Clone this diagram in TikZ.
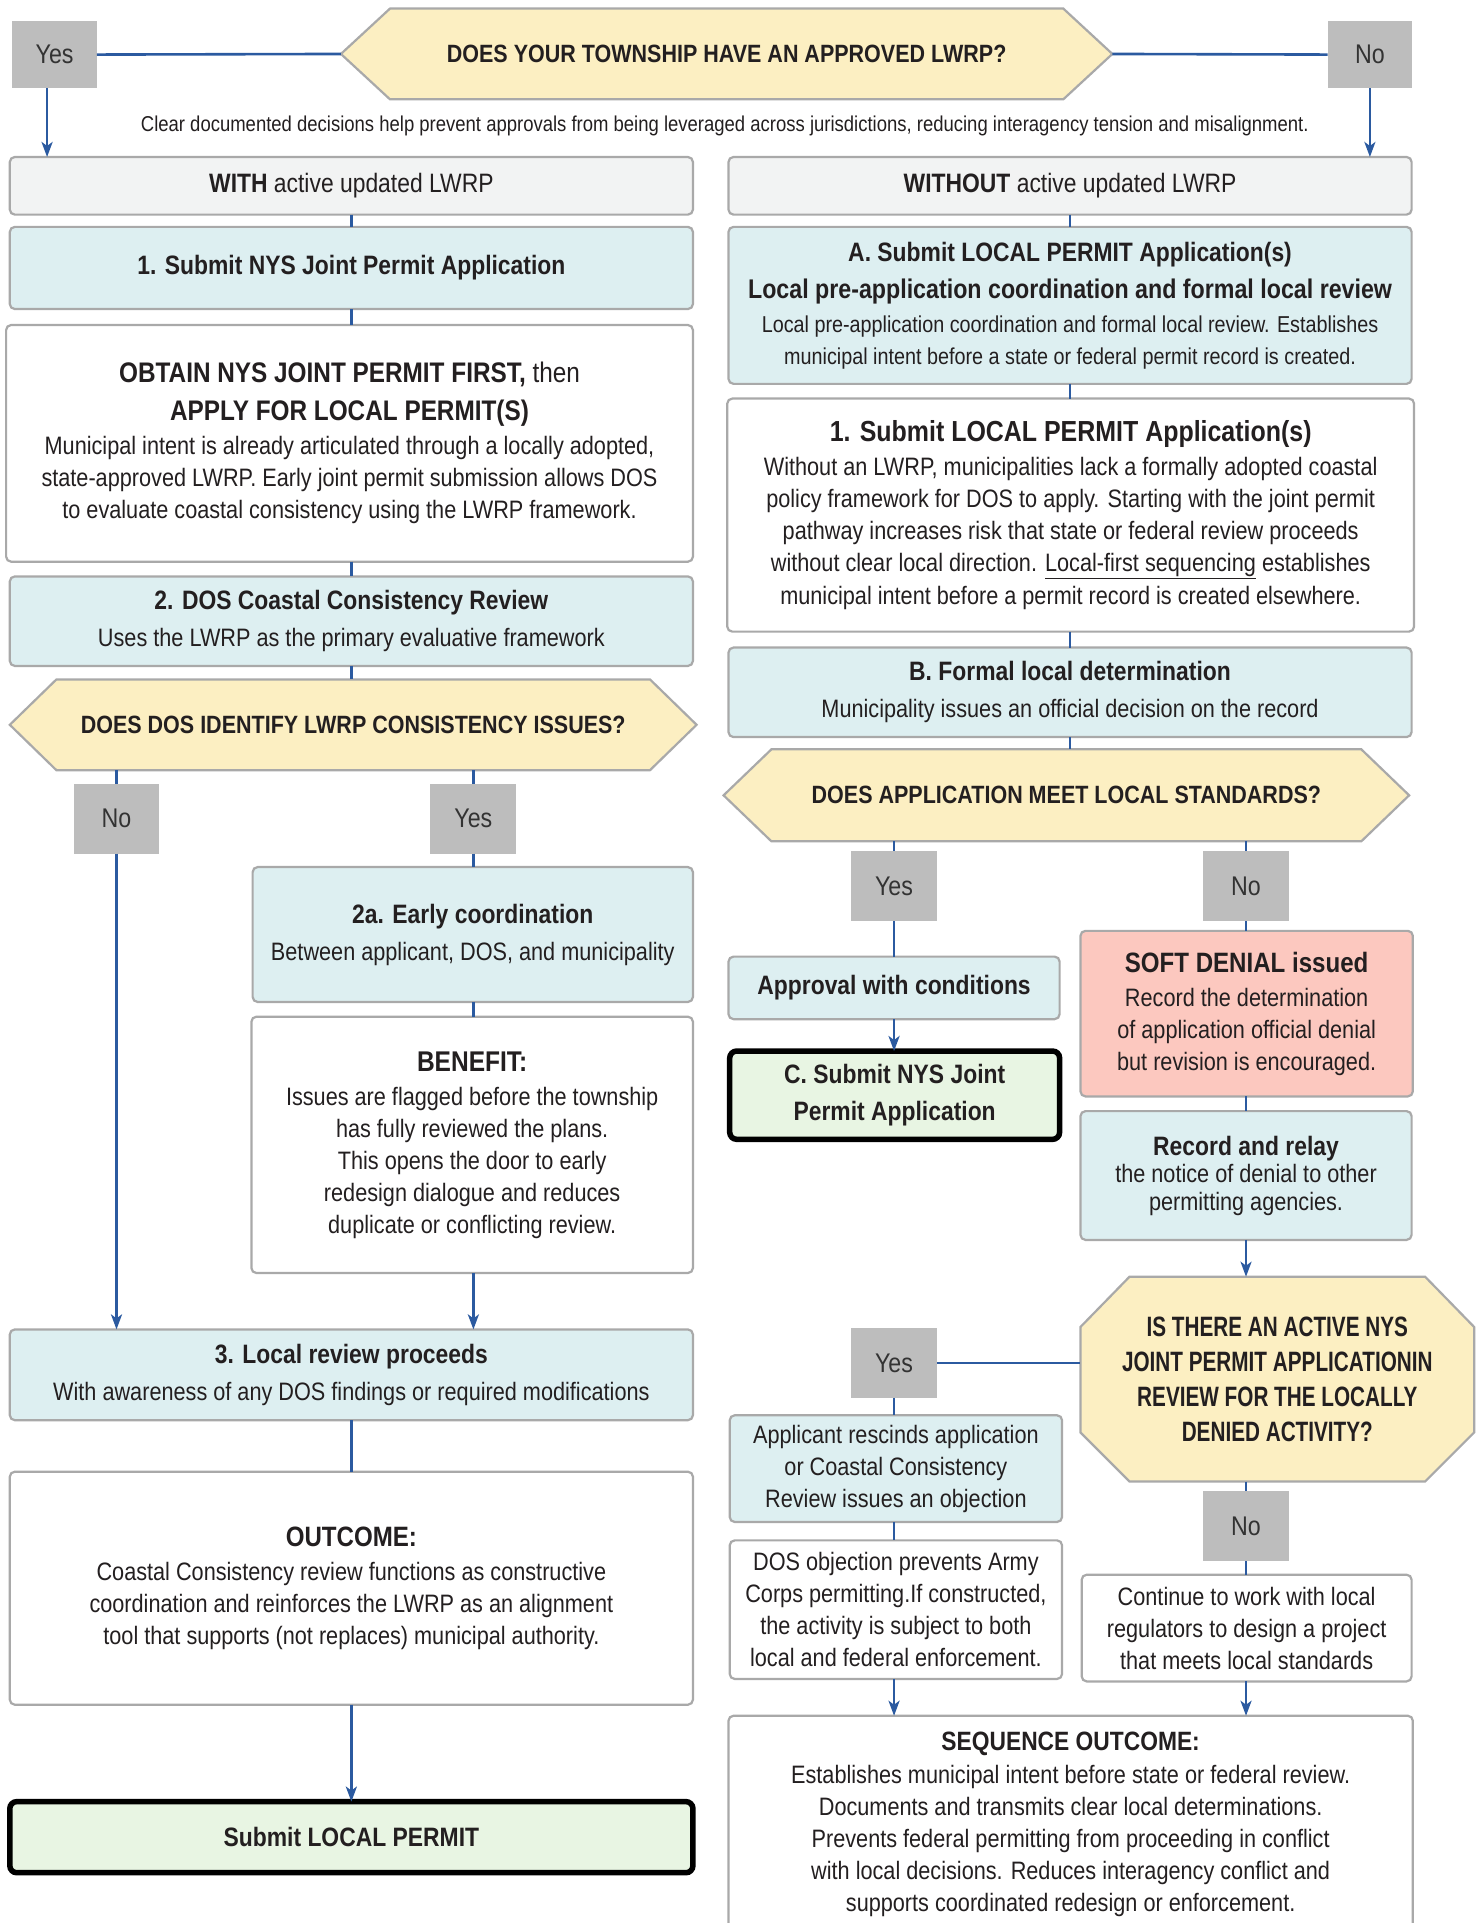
\documentclass[tikz,border=0pt]{standalone}
\usepackage{fontspec}
\setmainfont{Liberation Sans}[FakeStretch=0.86]
\newfontfamily\octfont{Liberation Sans}[FakeStretch=0.74]
\usetikzlibrary{arrows.meta}
\definecolor{lineblue}{HTML}{2B5AA0}
\definecolor{boxgray}{HTML}{A9A9A9}
\definecolor{lblgray}{HTML}{BDBDBD}
\definecolor{hdrgray}{HTML}{F2F3F3}
\definecolor{lblue}{HTML}{DDEFF1}
\definecolor{yel}{HTML}{FCEFC2}
\definecolor{pinkf}{HTML}{FCC8BF}
\definecolor{lgreen}{HTML}{E8F5E3}
\definecolor{txt}{HTML}{231F20}
\definecolor{txtb}{HTML}{333333}
\newcommand\bodyf{\fontsize{25.2}{32}\selectfont}
\newcommand\ttl[1]{{\fontsize{26.6}{32}\selectfont\bfseries #1}}
\newcommand\bx[7]{\node[#6, minimum width={(#4-#2)*1.2262pt}, minimum height={(#5-#3)*1.2262pt}] (#1) at ({(#2+#4)/2},{(#3+#5)/2}) {#7};}
\newcommand\hexa[7]{%
 \draw[hexst] (#2,{(#4+#5)/2}) -- ({#2+#6},#4) -- ({#3-#6},#4) -- (#3,{(#4+#5)/2}) -- ({#3-#6},#5) -- ({#2+#6},#5) -- cycle;
 \node[qtext, minimum width={(#3-#2)*1.2262pt}, minimum height={(#5-#4)*1.2262pt}] (#1) at ({(#2+#3)/2},{(#4+#5)/2}) {#7};}
\newcommand\lab[3]{\node[lbl] (#1) at (#2) {#3};}
\tikzset{
 base/.style={rounded corners=5pt, line width=2.2pt, draw=boxgray, align=center, inner sep=0pt, outer sep=0pt, text=txt, font=\bodyf},
 graybox/.style={base, fill=hdrgray},
 bluebox/.style={base, fill=lblue},
 whitebox/.style={base, fill=white},
 pinkbox/.style={base, fill=pinkf},
 greenbox/.style={base, fill=lgreen, draw=black, line width=5.5pt, rounded corners=7pt},
 hexst/.style={fill=yel, draw=boxgray, line width=2.2pt, line join=miter},
 qtext/.style={inner sep=0pt, outer sep=0pt, align=center, text=txt, font=\fontsize{25}{32}\selectfont\bfseries},
 lbl/.style={fill=lblgray, inner sep=0pt, outer sep=0pt, minimum width={70*1.2262pt}, minimum height={57*1.2262pt}, font=\fontsize{27}{30}\selectfont, text=txtb},
 conn/.style={draw=lineblue, line width=2.6pt},
 arr/.style={conn, -{Stealth[length=15pt, width=11pt, inset=4pt]}},
}
\begin{document}
\begin{tikzpicture}[x=1.2262pt,y=-1.2262pt]
\useasboundingbox[fill=white] (0,0) rectangle (1207,1568);

% ---- top ----
\hexa{q1}{278}{907}{7}{81}{40}{DOES YOUR TOWNSHIP HAVE AN APPROVED LWRP?}
\node[lbl, minimum width={69*1.2262pt}, minimum height={55*1.2262pt}] (yT) at (44.5,44.5) {Yes};
\node[lbl, minimum width={69*1.2262pt}, minimum height={55*1.2262pt}] (nT) at (1117,44.5) {No};
\node[text=txt, font=\fontsize{21.5}{24}\selectfont, inner sep=0pt] (cap) at (591,103) {Clear documented decisions help prevent approvals from being leveraged across jurisdictions, reducing interagency tension and misalignment.};

% ---- left column ----
\bx{withb}{8}{128}{565}{175}{graybox}{{\fontsize{26.6}{32}\selectfont\textbf{WITH} active updated LWRP}}
\bx{b1}{8}{185}{565}{252}{bluebox}{\ttl{1. Submit NYS Joint Permit Application}}
\bx{obt}{5}{265}{565}{458}{whitebox}{{\fontsize{28.3}{32}\selectfont\bfseries OBTAIN NYS JOINT PERMIT FIRST,\mdseries{} then}\\[6pt]{\fontsize{28.3}{32}\selectfont\bfseries APPLY FOR LOCAL PERMIT(S)}\\[2pt] Municipal intent is already articulated through a locally adopted,\\ state-approved LWRP. Early joint permit submission allows DOS\\ to evaluate coastal consistency using the LWRP framework.}
\bx{b2}{8}{470}{565}{543}{bluebox}{\ttl{2. DOS Coastal Consistency Review}\\[5pt] Uses the LWRP as the primary evaluative framework}
\hexa{q2}{8}{568}{554}{628}{38}{DOES DOS IDENTIFY LWRP CONSISTENCY ISSUES?}
\lab{nL}{95,667.5}{No}
\lab{yL}{386,667.5}{Yes}
\bx{b2a}{206}{707}{565}{817}{bluebox}{\ttl{2a. Early coordination}\\[5pt] Between applicant, DOS, and municipality}
\bx{ben}{205}{829}{565}{1038}{whitebox}{{\fontsize{28.5}{32}\selectfont\bfseries BENEFIT:}\\[2pt] Issues are flagged before the township\\ has fully reviewed the plans.\\ This opens the door to early\\ redesign dialogue and reduces\\ duplicate or conflicting review.}
\bx{b3}{8}{1084}{565}{1158}{bluebox}{\ttl{3. Local review proceeds}\\[5pt] With awareness of any DOS findings or required modifications}
\bx{out}{8}{1200}{565}{1390}{whitebox}{{\fontsize{28}{32}\selectfont\bfseries OUTCOME:}\\[2pt] Coastal Consistency review functions as constructive\\ coordination and reinforces the LWRP as an alignment\\ tool that supports (not replaces) municipal authority.}
\bx{sub}{8}{1469}{565}{1527}{greenbox}{\ttl{Submit LOCAL PERMIT}}

% ---- right column ----
\bx{withoutb}{594}{128}{1151}{175}{graybox}{{\fontsize{26.6}{32}\selectfont\textbf{WITHOUT} active updated LWRP}}
\bx{bA}{594}{185}{1151}{313}{bluebox}{\ttl{A. Submit LOCAL PERMIT Application(s)}\\[5pt] {\fontsize{27}{32}\selectfont\bfseries Local pre-application coordination and formal local review}\\[2pt] {\fontsize{23}{32}\selectfont Local pre-application coordination and formal local review. Establishes}\\ {\fontsize{23}{32}\selectfont municipal intent before a state or federal permit record is created.}}
\bx{r1}{593}{325}{1153}{515}{whitebox}{{\fontsize{29}{32}\selectfont\bfseries 1. Submit LOCAL PERMIT Application(s)}\\[2pt] Without an LWRP, municipalities lack a formally adopted coastal\\ policy framework for DOS to apply. Starting with the joint permit\\ pathway increases risk that state or federal review proceeds\\ without clear local direction. \underline{Local-first sequencing} establishes\\ municipal intent before a permit record is created elsewhere.}
\bx{bB}{594}{528}{1151}{601}{bluebox}{\ttl{B. Formal local determination}\\[5pt] Municipality issues an official decision on the record}
\hexa{q3}{590}{1149}{611}{686}{39}{DOES APPLICATION MEET LOCAL STANDARDS?}
\lab{yR}{729,722.5}{Yes}
\lab{nR}{1016,722.5}{No}
\bx{appr}{594}{780}{864}{831}{bluebox}{\ttl{Approval with conditions}}
\bx{cbox}{595}{857}{864}{929}{greenbox}{\ttl{C. Submit NYS Joint}\\[5pt] \ttl{Permit Application}}
\bx{soft}{881}{759}{1152}{894}{pinkbox}{{\fontsize{28}{32}\selectfont\bfseries SOFT DENIAL issued}\\[2pt] Record the determination\\ of application official denial\\ but revision is encouraged.}
\bx{rec}{881}{906}{1151}{1011}{bluebox, font=\fontsize{25.2}{28}\selectfont}{{\fontsize{26.6}{28}\selectfont\bfseries Record and relay}\\[-1pt] the notice of denial to other\\ permitting agencies.}
\draw[hexst] (881,1082) -- (921,1041) -- (1162,1041) -- (1202,1082) -- (1202,1168) -- (1162,1208) -- (921,1208) -- (881,1168) -- cycle;
\node[qtext, font=\fontsize{28}{35}\selectfont\octfont\bfseries, minimum width={321*1.2262pt}, minimum height={167*1.2262pt}] (q4) at (1041.5,1124.5) {IS THERE AN ACTIVE NYS\\ JOINT PERMIT APPLICATIONIN\\ REVIEW FOR THE LOCALLY\\ DENIED ACTIVITY?};
\lab{yO}{729,1111.5}{Yes}
\lab{nO}{1016,1244.5}{No}
\bx{appl}{595}{1154}{866}{1241}{bluebox}{\rule{0pt}{10pt}Applicant rescinds application\\ or Coastal Consistency\\ Review issues an objection}
\bx{dos}{595}{1256}{866}{1369}{whitebox}{DOS objection prevents Army\\ Corps permitting.If constructed,\\ the activity is subject to both\\ local and federal enforcement.}
\bx{cont}{882}{1284}{1151}{1371}{whitebox}{Continue to work with local\\ regulators to design a project\\ that meets local standards}
\bx{seq}{594}{1399}{1152}{1576}{whitebox}{{\fontsize{26.5}{32}\selectfont\bfseries SEQUENCE OUTCOME:}\\[1pt] Establishes municipal intent before state or federal review.\\ Documents and transmits clear local determinations.\\ Prevents federal permitting from proceeding in conflict\\ with local decisions. Reduces interagency conflict and\\ supports coordinated redesign or enforcement.}

% ---- connectors ----
\draw[conn] (yT.east) -- (q1.west);
\draw[conn] (q1.east) -- (nT.west);
\draw[arr] ([xshift=-7.5pt]yT.south) -- ([xshift=-7.5pt]yT.south |- withb.north);
\draw[arr] (nT.south) -- (nT.south |- withoutb.north);
\draw[conn] (withb.south) -- (b1.north);
\draw[conn] (b1.south) -- (b1.south |- obt.north);
\draw[conn] (b1.south |- obt.south) -- (b2.north);
\draw[conn] (b2.south) -- (b2.south |- q2.north);
\draw[conn] (q2.south -| nL.north) -- (nL.north);
\draw[arr] (nL.south) -- (nL.south |- b3.north);
\draw[conn] (q2.south -| yL.north) -- (yL.north);
\draw[conn] (yL.south) -- (yL.south |- b2a.north);
\draw[conn] (yL.south |- b2a.south) -- (yL.south |- ben.north);
\draw[arr] (yL.south |- ben.south) -- (yL.south |- b3.north);
\draw[conn] (b3.south) -- (out.north);
\draw[arr] (out.south) -- (sub.north);
\draw[conn] (withoutb.south) -- (bA.north);
\draw[conn] (bA.south) -- (bA.south |- r1.north);
\draw[conn] (bA.south |- r1.south) -- (bB.north);
\draw[conn] (bB.south) -- (bB.south |- q3.north);
\draw[conn] (q3.south -| yR.north) -- (yR.north);
\draw[conn] (yR.south) -- (yR.south |- appr.north);
\draw[arr] (yR.south |- appr.south) -- (yR.south |- cbox.north);
\draw[conn] (q3.south -| nR.north) -- (nR.north);
\draw[conn] (nR.south) -- (nR.south |- soft.north);
\draw[conn] (nR.south |- soft.south) -- (nR.south |- rec.north);
\draw[arr] (nR.south |- rec.south) -- (nR.south |- q4.north);
\draw[conn] (yO.east) -- (yO.east -| q4.west);
\draw[conn] (yO.south) -- (yO.south |- appl.north);
\draw[conn] (yO.south |- appl.south) -- (yO.south |- dos.north);
\draw[arr] (yO.south |- dos.south) -- (yO.south |- seq.north);
\draw[conn] (q4.south -| nO.north) -- (nO.north);
\draw[conn] (nO.south) -- (nO.south |- cont.north);
\draw[arr] (nO.south |- cont.south) -- (nO.south |- seq.north);
\end{tikzpicture}
\end{document}
